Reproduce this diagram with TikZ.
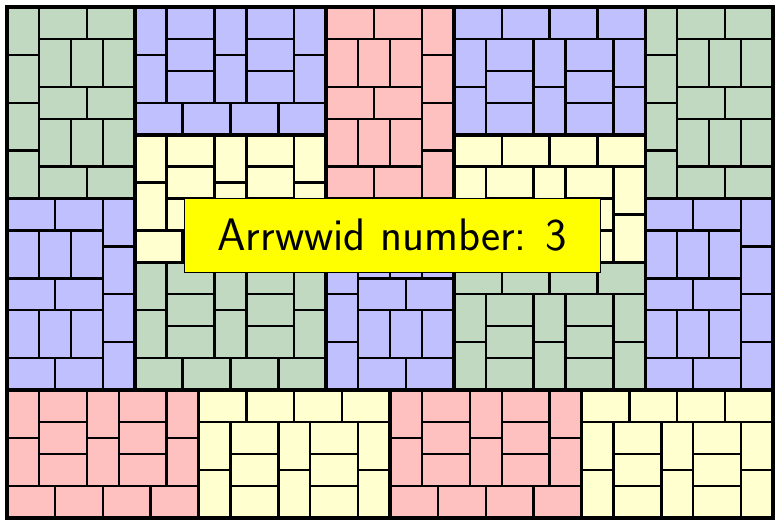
\documentclass[tikz,border=0pt]{standalone}
\usetikzlibrary{positioning}
\definecolor{tgreen}{HTML}{C1D9C0}
\definecolor{tblue}{HTML}{C0C0FF}
\definecolor{tpink}{HTML}{FFC0C0}
\definecolor{tyellow}{HTML}{FFFFD0}
\definecolor{lblyellow}{HTML}{FFFF00}

\tikzset{
  tile/.style={draw=black, line width=1.7pt},
  blockframe/.style={draw=black, line width=2.6pt},
  namebox/.style={fill=lblyellow, draw=black, line width=0.6pt,
    minimum width=10.44cm, minimum height=1.84cm, inner sep=0pt,
    font=\fontsize{32.5}{38}\selectfont\sffamily}
}

% 8x12 block, vertical column on the left
\newcommand{\patA}[1]{%
  \foreach \j in {0,3,6,9} \draw[tile, fill=#1] (0,\j) rectangle ++(2,3);
  \foreach \j in {0,5,10} \foreach \i in {2,5} \draw[tile, fill=#1] (\i,\j) rectangle ++(3,2);
  \foreach \j in {2,7} \foreach \i in {2,4,6} \draw[tile, fill=#1] (\i,\j) rectangle ++(2,3);
  \draw[blockframe] (0,0) rectangle (8,12);
}
% 8x12 block, vertical column on the right
\newcommand{\patC}[1]{%
  \foreach \j in {0,3,6,9} \draw[tile, fill=#1] (6,\j) rectangle ++(2,3);
  \foreach \j in {0,5,10} \foreach \i in {0,3} \draw[tile, fill=#1] (\i,\j) rectangle ++(3,2);
  \foreach \j in {2,7} \foreach \i in {0,2,4} \draw[tile, fill=#1] (\i,\j) rectangle ++(2,3);
  \draw[blockframe] (0,0) rectangle (8,12);
}
% 12x8 block, horizontal row at the bottom
\newcommand{\patB}[1]{%
  \foreach \j in {0,3} \foreach \i in {0,5,10} \draw[tile, fill=#1] (\i,\j) rectangle ++(2,3);
  \foreach \j in {0,2,4} \foreach \i in {2,7} \draw[tile, fill=#1] (\i,\j) rectangle ++(3,2);
  \foreach \i in {0,3,6,9} \draw[tile, fill=#1] (\i,6) rectangle ++(3,2);
  \draw[blockframe] (0,0) rectangle (12,8);
}
% 12x8 block, horizontal row at the top
\newcommand{\patD}[1]{%
  \foreach \i in {0,3,6,9} \draw[tile, fill=#1] (\i,0) rectangle ++(3,2);
  \foreach \j in {2,5} \foreach \i in {0,5,10} \draw[tile, fill=#1] (\i,\j) rectangle ++(2,3);
  \foreach \j in {2,4,6} \foreach \i in {2,7} \draw[tile, fill=#1] (\i,\j) rectangle ++(3,2);
  \draw[blockframe] (0,0) rectangle (12,8);
}

\begin{document}
\begin{tikzpicture}[x=0.4cm, y=-0.4cm]

\useasboundingbox (-0.44,-0.44) rectangle (48.25,32.13);

% Tall blocks
\foreach \bx/\by/\col in {0/0/tgreen, 40/0/tgreen, 20/12/tblue} {
  \begin{scope}[shift={(\bx,\by)}] \patA{\col} \end{scope}
}
\foreach \bx/\by/\col in {20/0/tpink, 0/12/tblue, 40/12/tblue} {
  \begin{scope}[shift={(\bx,\by)}] \patC{\col} \end{scope}
}

% Wide blocks
\foreach \bx/\by/\col in {8/0/tblue, 8/8/tyellow, 8/16/tgreen, 0/24/tpink, 24/24/tpink} {
  \begin{scope}[shift={(\bx,\by)}] \patB{\col} \end{scope}
}
\foreach \bx/\by/\col in {28/0/tblue, 28/8/tyellow, 28/16/tgreen, 12/24/tyellow, 36/24/tyellow} {
  \begin{scope}[shift={(\bx,\by)}] \patD{\col} \end{scope}
}

% Outer frame
\draw[blockframe] (0,0) rectangle (48,32);

% Label
\node[namebox] (arrlabel) at (24.15,14.3) {Arrwwid number: 3\hspace{0.2cm}};

\end{tikzpicture}
\end{document}
